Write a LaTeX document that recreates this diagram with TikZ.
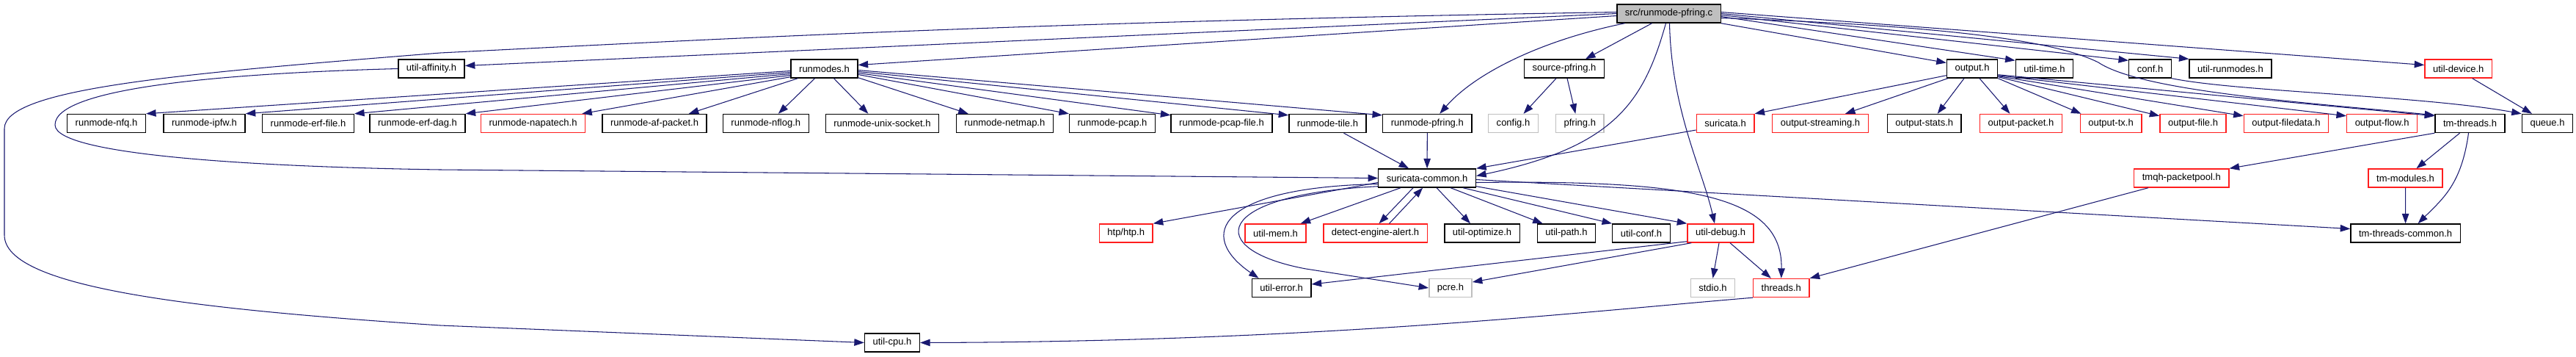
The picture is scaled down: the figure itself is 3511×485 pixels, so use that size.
\documentclass[tikz,border=0pt]{standalone}
\usepackage{fontspec}
\setmainfont{Liberation Sans}
\usepackage{tikz}
\usetikzlibrary{arrows.meta,calc}
\definecolor{edgeblue}{RGB}{25,25,112}
\definecolor{boxred}{RGB}{255,30,30}
\definecolor{boxgray}{RGB}{191,191,191}

\begin{document}
\begin{tikzpicture}[x=0.2mm,y=-0.2mm,
    hdr/.style={draw=black,line width=0.8pt,font=\fontsize{7.4}{8}\selectfont,
        inner xsep=6.3pt,inner ysep=0pt,minimum height=0.5cm},
    hdrred/.style={hdr,draw=boxred},
    hdrsys/.style={hdr,draw=boxgray},
    dep/.style={draw=edgeblue,line width=0.6pt,-{Triangle[length=0.27cm,width=0.19cm]}}]
    \useasboundingbox (0,0) rectangle (3511,485);

    % row 0 and 1
    \node[hdr,fill=boxgray] (src) at (2274.5,18.5) {src/runmode-pfring.c};
    \node[hdr] (aff) at (588,93.5) {util-affinity.h};
    \node[hdr] (rmodes) at (1123.5,93.5) {runmodes.h};
    \node[hdr] (spfring) at (2132,93.5) {source-pfring.h};
    \node[hdr] (outp) at (2688,93.5) {output.h};
    \node[hdr] (utime) at (2786.5,93.5) {util-time.h};
    \node[hdr] (conf) at (2930.5,93.5) {conf.h};
    \node[hdr] (urunm) at (3040,93.5) {util-runmodes.h};
    \node[hdrred] (udev) at (3350.7,93.5) {util-device.h};

    % row 2
    \node[hdr] (nfq) at (145,168) {runmode-nfq.h};
    \node[hdr] (ipfw) at (278.5,168) {runmode-ipfw.h};
    \node[hdr] (erffile) at (420,168) {runmode-erf-file.h};
    \node[hdr] (erfdag) at (569,168) {runmode-erf-dag.h};
    \node[hdrred] (napatech) at (726.5,168) {runmode-napatech.h};
    \node[hdr] (afpacket) at (892,168) {runmode-af-packet.h};
    \node[hdr] (nflog) at (1043.8,168) {runmode-nflog.h};
    \node[hdr] (unixsock) at (1202.4,168) {runmode-unix-socket.h};
    \node[hdr] (netmap) at (1369.4,168) {runmode-netmap.h};
    \node[hdr] (pcap) at (1516,168) {runmode-pcap.h};
    \node[hdr] (pcapfile) at (1665,168) {runmode-pcap-file.h};
    \node[hdr] (tile) at (1809.5,168) {runmode-tile.h};
    \node[hdr] (rpfring) at (1945.3,168) {runmode-pfring.h};
    \node[hdrsys] (config) at (2062.5,168) {config.h};
    \node[hdrsys] (pfring) at (2153.3,168) {pfring.h};
    \node[hdrred] (suri) at (2351.6,168) {suricata.h};
    \node[hdrred] (ostream) at (2481,168) {output-streaming.h};
    \node[hdr] (ostats) at (2622.7,168) {output-stats.h};
    \node[hdrred] (opacket) at (2754.5,168) {output-packet.h};
    \node[hdrred] (otx) at (2877,168) {output-tx.h};
    \node[hdrred] (ofile) at (2989,168) {output-file.h};
    \node[hdrred] (ofiledata) at (3116,168) {output-filedata.h};
    \node[hdrred] (oflow) at (3246.6,168) {output-flow.h};
    \node[hdr] (tmth) at (3366.5,168) {tm-threads.h};
    \node[hdr] (queue) at (3472,168) {queue.h};

    % rows 3 to 6
    \node[hdr] (scom) at (1945.1,242.5) {suricata-common.h};
    \node[hdrred] (tmqh) at (2973.3,242.5) {tmqh-packetpool.h};
    \node[hdrred] (tmmod) at (3278.5,242.5) {tm-modules.h};
    \node[hdrred] (htp) at (1534.7,317.5) {htp/htp.h};
    \node[hdrred] (umem) at (1738.5,317.5) {util-mem.h};
    \node[hdrred] (dea) at (1874.5,317.5) {detect-engine-alert.h};
    \node[hdr] (uopt) at (2020,317.5) {util-optimize.h};
    \node[hdr] (upath) at (2135,317.5) {util-path.h};
    \node[hdr] (uconf) at (2237,317.5) {util-conf.h};
    \node[hdrred] (udbg) at (2345,317.5) {util-debug.h};
    \node[hdr] (ttc) at (3278.6,317.5) {tm-threads-common.h};
    \node[hdr] (uerr) at (1746.6,392) {util-error.h};
    \node[hdrsys] (pcre) at (1977,392) {pcre.h};
    \node[hdrsys] (stdio) at (2334.5,392) {stdio.h};
    \node[hdrred] (threads) at (2427.8,392) {threads.h};
    \node[hdr] (ucpu) at (1216,466.5) {util-cpu.h};

    % edges from src/runmode-pfring.c
    \draw[dep] ($(src.west)+(0,-2)$) .. controls (1400,30) and (1000,52) .. (600,72)
        .. controls (250,100) and (6,120) .. (6,175) -- (6,320)
        .. controls (6,390) and (250,420) .. (600,443) -- (ucpu.west);
    \draw[dep] (src.west) -- ($(aff.east)+(0,-4)$);
    \draw[dep] ($(src.west)+(0,3)$) -- ($(rmodes.east)+(0,-5)$);
    \draw[dep] ($(src.south)+(-60,0)$) .. controls (2100,55) and (2010,100) .. ($(rpfring.north)+(17,0)$);
    \draw[dep] ($(src.south)+(-23,0)$) -- ($(spfring.north)+(29,0)$);
    \draw[dep] ($(src.south)+(-4,0)$) .. controls (2240,140) and (2200,200) .. ($(scom.east)+(0,-3)$);
    \draw[dep] ($(src.south)+(1,0)$) .. controls (2278,150) and (2320,230) .. ($(udbg.north)+(-8,0)$);
    \draw[dep] (src.south east) -- ($(outp.west)+(0,-8)$);
    \draw[dep] ($(src.east)+(0,4)$) -- ($(utime.north west)+(0,2)$);
    \draw[dep] ($(src.east)+(0,2)$) -- ($(conf.north west)+(0,2)$);
    \draw[dep] (src.east) -- (urunm.north west);
    \draw[dep] ($(src.east)+(0,-2)$) -- ($(udev.west)+(0,-5)$);
    \draw[dep] ($(src.east)+(0,6)$) .. controls (2650,35) and (2800,55) .. (2860,85)
        .. controls (2920,125) and (3150,140) .. ($(tmth.north west)+(0,2)$);

    % edges from output.h
    \draw[dep] ($(outp.south west)+(0,-4)$) -- (suri.north east);
    \draw[dep] ($(outp.south west)+(2,0)$) -- ($(ostream.north)+(34,0)$);
    \draw[dep] ($(outp.south)+(-11,0)$) -- ($(ostats.north)+(18,0)$);
    \draw[dep] ($(outp.south)+(10,0)$) -- ($(opacket.north)+(-15,0)$);
    \draw[dep] (outp.south east) -- ($(otx.north west)+(2,0)$);
    \draw[dep] ($(outp.south east)+(0,-2)$) -- ($(ofile.north west)+(0,3)$);
    \draw[dep] ($(outp.south east)+(0,-3)$) -- ($(ofiledata.north west)+(0,3)$);
    \draw[dep] ($(outp.south east)+(0,-4)$) -- ($(oflow.north west)+(0,3)$);
    \draw[dep] ($(outp.south east)+(0,-5)$) -- ($(tmth.north west)+(0,3)$);

    % edges from runmodes.h
    \draw[dep] ($(rmodes.west)+(0,3)$) -- (nfq.north east);
    \draw[dep] ($(rmodes.west)+(0,5)$) -- (ipfw.north east);
    \draw[dep] ($(rmodes.west)+(0,7)$) -- (erffile.north east);
    \draw[dep] ($(rmodes.west)+(0,9)$) -- (erfdag.north east);
    \draw[dep] ($(rmodes.south west)+(0,-2)$) -- ($(napatech.north east)+(-5,0)$);
    \draw[dep] ($(rmodes.south west)+(10,0)$) -- ($(afpacket.north east)+(-25,0)$);
    \draw[dep] ($(rmodes.south)+(-13,0)$) -- ($(nflog.north)+(17,0)$);
    \draw[dep] ($(rmodes.south)+(13,0)$) -- ($(unixsock.north)+(-19,0)$);
    \draw[dep] ($(rmodes.south east)+(0,-1)$) -- ($(netmap.north west)+(17,0)$);
    \draw[dep] ($(rmodes.east)+(0,8)$) -- (pcap.north west);
    \draw[dep] ($(rmodes.east)+(0,6)$) -- ($(pcapfile.north west)+(0,2)$);
    \draw[dep] ($(rmodes.east)+(0,4)$) -- ($(tile.north west)+(0,2)$);
    \draw[dep] ($(rmodes.east)+(0,2)$) -- ($(rpfring.north west)+(0,2)$);

    \draw[dep] (aff.west) .. controls (300,100) and (75,120) .. (75,170)
        .. controls (75,215) and (400,228) .. (600,231) -- (scom.west);
    \draw[dep] ($(spfring.south)+(-11,0)$) -- ($(config.north)+(14,0)$);
    \draw[dep] ($(spfring.south)+(4,0)$) -- ($(pfring.north)+(-6,0)$);

    % into and out of suricata-common.h
    \draw[dep] ($(tile.south)+(22,0)$) -- ($(scom.north)+(-25,0)$);
    \draw[dep] (rpfring.south) -- (scom.north);
    \draw[dep] ($(suri.west)+(0,9)$) -- (scom.north east);
    \draw[dep] ($(dea.north)+(19,0)$) -- ($(scom.south)+(-6,0)$);
    \draw[dep] ($(scom.west)+(0,6)$) -- (htp.north east);
    \draw[dep] ($(scom.south west)+(31,0)$) -- ($(umem.north east)+(-8,0)$);
    \draw[dep] ($(scom.south west)+(48,0)$) -- ($(dea.north)+(5,0)$);
    \draw[dep] ($(scom.south)+(13,0)$) -- ($(uopt.north)+(-16,0)$);
    \draw[dep] ($(scom.south)+(32,0)$) -- ($(upath.north west)+(8,0)$);
    \draw[dep] ($(scom.south)+(49,0)$) -- (uconf.north west);
    \draw[dep] ($(scom.south east)+(0,-2)$) -- (udbg.north west);
    \draw[dep] ($(scom.east)+(0,2)$) -- ($(ttc.west)+(0,-6)$);
    \draw[dep] ($(scom.east)+(0,6)$) .. controls (2300,245) and (2430,265) .. (threads.north);
    \draw[dep] ($(scom.west)+(0,8)$) .. controls (1660,255) and (1630,320) .. ($(uerr.north)+(-31,0)$);
    \draw[dep] ($(scom.south west)+(0,-2)$) .. controls (1650,265) and (1640,340) .. (1780,366) -- (pcre.west);

    % util-debug.h and threads.h
    \draw[dep] ($(udbg.south west)+(0,-2)$) -- ($(uerr.east)+(0,-5)$);
    \draw[dep] ($(udbg.south west)+(6,0)$) -- ($(pcre.east)+(0,-8)$);
    \draw[dep] ($(udbg.south)+(-2,0)$) -- (stdio.north);
    \draw[dep] ($(udbg.south)+(13,0)$) -- ($(threads.north)+(-14,0)$);
    \draw[dep] (threads.south west) .. controls (2150,425) and (1800,465) .. (ucpu.east);
    \draw[dep] ($(tmqh.south west)+(20,0)$) -- (threads.north east);

    % tm-threads.h and the right side
    \draw[dep] (tmth.south west) -- (tmqh.north east);
    \draw[dep] ($(tmth.south)+(-14,0)$) -- ($(tmmod.north)+(15,0)$);
    \draw[dep] ($(tmth.south)+(-2,0)$) .. controls (3355,250) and (3330,270) .. ($(ttc.north)+(17,0)$);
    \draw[dep] (tmmod.south) -- (ttc.north);
    \draw[dep] ($(udev.south)+(19,0)$) -- ($(queue.north)+(-21,0)$);
    \draw[dep] (conf.south east) .. controls (3050,125) and (3300,130) .. (queue.north west);
\end{tikzpicture}
\end{document}
